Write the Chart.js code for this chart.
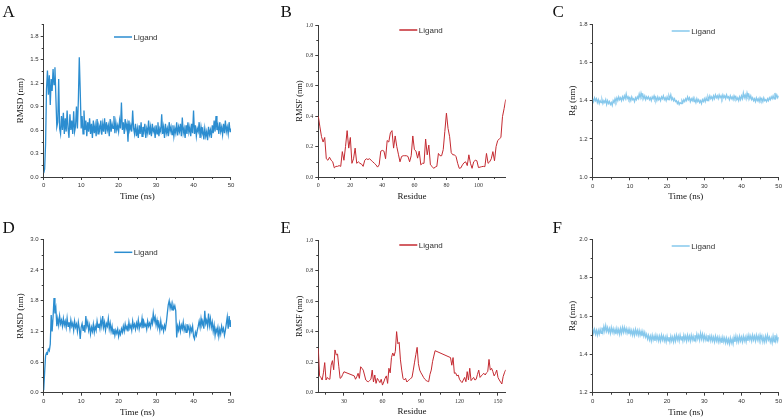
<!DOCTYPE html>
<html>
<head>
<meta charset="utf-8">
<script src="https://cdn.jsdelivr.net/npm/chart.js@4.4.1/dist/chart.umd.min.js"></script>
<style>
  body { margin: 0; background: #fff; }
  #wrap { position: relative; width: 784px; height: 420px; }
  #wrap canvas { position: absolute; left: 0; top: 0; }
</style>
</head>
<body>
<div id="wrap">
  <canvas id="cA" width="784" height="420"></canvas>
  <canvas id="cB" width="784" height="420"></canvas>
  <canvas id="cC" width="784" height="420"></canvas>
  <canvas id="cD" width="784" height="420"></canvas>
  <canvas id="cE" width="784" height="420"></canvas>
  <canvas id="cF" width="784" height="420"></canvas>
</div>
<script>
// --- data ---
const timeStepNs = 0.25;

// A: ligand RMSD (nm), 0..50 ns
const rmsdA = [
  0.05, 0.10, 0.42, 1.12, 1.36, 1.05, 1.30, 0.92, 1.25, 1.10, 1.38, 1.18, 1.40, 1.02, 0.64, 0.70, 1.25, 0.62, 0.55, 0.78,
  0.60, 0.82, 0.55, 0.75, 0.58, 0.85, 0.62, 0.50, 0.80, 0.60, 0.72, 0.55, 0.84, 0.58, 0.65, 0.90, 0.62, 0.98, 1.53, 1.10,
  0.62, 0.78, 0.55, 0.85, 0.60, 0.72, 0.52, 0.70, 0.58, 0.75, 0.55, 0.68, 0.50, 0.72, 0.56, 0.66, 0.52, 0.74, 0.55, 0.65,
  0.60, 0.72, 0.54, 0.68, 0.58, 0.75, 0.55, 0.70, 0.60, 0.66, 0.52, 0.74, 0.58, 0.68, 0.62, 0.78, 0.56, 0.70, 0.60, 0.66,
  0.58, 0.72, 0.62, 0.95, 0.60, 0.70, 0.55, 0.74, 0.62, 0.68, 0.45, 0.72, 0.60, 0.66, 0.58, 0.85, 0.62, 0.55, 0.68, 0.52,
  0.62, 0.50, 0.66, 0.55, 0.70, 0.52, 0.64, 0.58, 0.68, 0.50, 0.62, 0.56, 0.72, 0.54, 0.64, 0.52, 0.68, 0.58, 0.62, 0.50,
  0.66, 0.55, 0.70, 0.52, 0.62, 0.58, 0.80, 0.55, 0.64, 0.50, 0.68, 0.56, 0.62, 0.52, 0.70, 0.58, 0.64, 0.54, 0.66, 0.52,
  0.62, 0.56, 0.70, 0.53, 0.64, 0.58, 0.68, 0.52, 0.76, 0.56, 0.62, 0.50, 0.66, 0.55, 0.70, 0.57, 0.64, 0.52, 0.68, 0.56,
  0.85, 0.55, 0.66, 0.52, 0.62, 0.58, 0.70, 0.50, 0.64, 0.55, 0.60, 0.48, 0.62, 0.52, 0.58, 0.47, 0.64, 0.54, 0.60, 0.50,
  0.66, 0.56, 0.72, 0.58, 0.78, 0.60, 0.66, 0.55, 0.70, 0.58, 0.64, 0.54, 0.68, 0.56, 0.72, 0.58, 0.64, 0.55, 0.70, 0.58, 0.62
];

// B: RMSF (nm) per residue 0..117
const rmsfB = [
  0.40, 0.33, 0.265, 0.23, 0.26, 0.12, 0.11, 0.13, 0.11, 0.10,
  0.06, 0.07, 0.07, 0.075, 0.07, 0.167, 0.11, 0.20, 0.305, 0.19,
  0.26, 0.09, 0.12, 0.19, 0.09, 0.10, 0.09, 0.085, 0.07, 0.11,
  0.12, 0.115, 0.12, 0.11, 0.10, 0.09, 0.08, 0.065, 0.08, 0.17,
  0.175, 0.17, 0.12, 0.24, 0.23, 0.29, 0.305, 0.19, 0.27, 0.20,
  0.15, 0.10, 0.135, 0.14, 0.14, 0.14, 0.135, 0.10, 0.14, 0.27,
  0.18, 0.17, 0.124, 0.17, 0.08, 0.09, 0.09, 0.25, 0.146, 0.21,
  0.08, 0.07, 0.057, 0.065, 0.07, 0.155, 0.14, 0.14, 0.18, 0.30,
  0.42, 0.32, 0.265, 0.16, 0.146, 0.146, 0.134, 0.09, 0.057, 0.06,
  0.08, 0.094, 0.10, 0.075, 0.146, 0.09, 0.057, 0.10, 0.11, 0.107,
  0.062, 0.065, 0.068, 0.07, 0.068, 0.155, 0.09, 0.10, 0.12, 0.167,
  0.107, 0.20, 0.24, 0.25, 0.26, 0.397, 0.45, 0.51
];

// C: radius of gyration (nm), 0..50 ns
const rgC = [
  1.41, 1.395, 1.415, 1.40, 1.41, 1.39, 1.405, 1.385, 1.40, 1.39, 1.405, 1.385, 1.40, 1.39, 1.405, 1.38, 1.40, 1.385, 1.395, 1.38,
  1.39, 1.375, 1.40, 1.39, 1.41, 1.395, 1.415, 1.40, 1.42, 1.405, 1.415, 1.40, 1.42, 1.405, 1.425, 1.41, 1.435, 1.41, 1.42, 1.405,
  1.415, 1.40, 1.42, 1.405, 1.41, 1.395, 1.415, 1.405, 1.42, 1.41, 1.435, 1.415, 1.44, 1.42, 1.43, 1.41, 1.425, 1.405, 1.42, 1.41,
  1.42, 1.405, 1.415, 1.40, 1.42, 1.41, 1.425, 1.405, 1.415, 1.40, 1.42, 1.405, 1.415, 1.40, 1.42, 1.41, 1.425, 1.405, 1.415, 1.40,
  1.42, 1.405, 1.425, 1.41, 1.43, 1.405, 1.415, 1.40, 1.41, 1.395, 1.40, 1.385, 1.395, 1.38, 1.39, 1.385, 1.40, 1.39, 1.405, 1.395,
  1.41, 1.40, 1.42, 1.405, 1.415, 1.395, 1.41, 1.40, 1.415, 1.395, 1.405, 1.39, 1.41, 1.395, 1.405, 1.39, 1.40, 1.385, 1.405, 1.395,
  1.41, 1.395, 1.415, 1.40, 1.42, 1.405, 1.425, 1.41, 1.42, 1.405, 1.425, 1.41, 1.43, 1.415, 1.425, 1.41, 1.43, 1.415, 1.425, 1.41,
  1.43, 1.415, 1.425, 1.41, 1.43, 1.415, 1.42, 1.405, 1.425, 1.41, 1.42, 1.405, 1.425, 1.41, 1.42, 1.405, 1.415, 1.40, 1.42, 1.405,
  1.425, 1.41, 1.44, 1.415, 1.43, 1.41, 1.44, 1.42, 1.43, 1.41, 1.425, 1.405, 1.415, 1.40, 1.41, 1.395, 1.415, 1.40, 1.41, 1.395,
  1.415, 1.40, 1.41, 1.395, 1.415, 1.40, 1.405, 1.395, 1.41, 1.40, 1.415, 1.405, 1.42, 1.41, 1.425, 1.41, 1.44, 1.415, 1.43, 1.415, 1.425
];

// D: ligand RMSD (nm), 0..50 ns
const rmsdD = [
  0.05, 0.40, 0.72, 0.78, 0.76, 0.85, 0.82, 0.95, 1.52, 1.20, 1.48, 1.85, 1.55, 1.65, 1.30, 1.45, 1.32, 1.50, 1.35, 1.42,
  1.30, 1.45, 1.32, 1.40, 1.28, 1.46, 1.30, 1.38, 1.25, 1.42, 1.30, 1.36, 1.22, 1.40, 1.28, 1.34, 1.20, 1.38, 1.26, 1.05,
  1.28, 1.35, 1.22, 1.32, 1.18, 1.50, 1.30, 1.38, 1.22, 1.32, 1.15, 1.28, 1.20, 1.34, 1.18, 1.30, 1.22, 1.40, 1.28, 1.35,
  1.25, 1.42, 1.30, 1.50, 1.28, 1.38, 1.22, 1.35, 1.30, 1.45, 1.25, 1.36, 1.20, 1.30, 1.15, 1.25, 1.12, 1.22, 1.16, 1.24,
  1.10, 1.20, 1.14, 1.25, 1.18, 1.30, 1.20, 1.34, 1.24, 1.30, 1.20, 1.38, 1.26, 1.32, 1.22, 1.40, 1.28, 1.34, 1.24, 1.36,
  1.28, 1.42, 1.25, 1.35, 1.30, 1.45, 1.26, 1.38, 1.30, 1.34, 1.24, 1.40, 1.30, 1.36, 1.28, 1.42, 1.35, 1.55, 1.40, 1.48,
  1.32, 1.42, 1.28, 1.35, 1.22, 1.40, 1.25, 1.30, 1.20, 1.32, 1.25, 1.38, 1.55, 1.72, 1.80, 1.65, 1.74, 1.62, 1.72, 1.64,
  1.70, 1.60, 1.08, 1.30, 1.22, 1.35, 1.20, 1.32, 1.25, 1.38, 1.22, 1.30, 1.18, 1.34, 1.24, 1.30, 1.15, 1.28, 1.20, 1.30,
  1.10, 1.05, 1.18, 1.12, 1.22, 1.30, 1.40, 1.28, 1.45, 1.32, 1.38, 1.25, 1.60, 1.35, 1.42, 1.30, 1.55, 1.32, 1.45, 1.28,
  1.38, 1.20, 1.32, 1.12, 1.25, 1.18, 1.28, 1.10, 1.24, 1.15, 1.30, 1.20, 1.26, 1.12, 1.22, 1.35, 1.48, 1.25, 1.50, 1.30, 1.42
];

// E: RMSF (nm); residues 31-37 and 102-112 are missing in the plot (straight joins)
const residueE = [
  10, 11, 12, 13, 14, 15, 16, 17, 18, 19, 20, 21, 22, 23, 24, 25, 26, 27, 28, 29, 30,
  38, 39, 40, 41, 42, 43, 44, 45, 46, 47, 48, 49, 50, 51, 52, 53, 54, 55, 56, 57,
  58, 59, 60, 61, 62, 63, 64, 65, 66, 67, 68, 69, 70, 71, 72, 73, 74, 75, 76, 77,
  78, 79, 80, 81, 82, 83, 84, 85, 86, 87, 88, 89, 90, 91, 92, 93, 94, 95, 96, 97,
  98, 99, 100, 101,
  113, 114, 115, 116, 117, 118, 119, 120, 121, 122, 123, 124, 125, 126, 127, 128, 129, 130, 131, 132,
  133, 134, 135, 136, 137, 138, 139, 140, 141, 142, 143, 144, 145, 146, 147, 148, 149, 150, 151, 152,
  153, 154, 155, 156
];
const rmsfE = [
  0.29, 0.11, 0.10, 0.083, 0.13, 0.197, 0.083, 0.10, 0.09, 0.088, 0.18, 0.21, 0.15, 0.28, 0.247, 0.253, 0.17, 0.094, 0.10, 0.12, 0.137,
  0.11, 0.088, 0.105, 0.127, 0.094, 0.17, 0.16, 0.148, 0.116, 0.083, 0.075, 0.072, 0.08, 0.088, 0.148, 0.07, 0.116, 0.061, 0.094, 0.08,
  0.066, 0.088, 0.05, 0.07, 0.094, 0.11, 0.061, 0.16, 0.13, 0.23, 0.26, 0.24, 0.27, 0.40, 0.32, 0.33, 0.215, 0.148, 0.094, 0.083,
  0.094, 0.07, 0.079, 0.085, 0.094, 0.10, 0.148, 0.20, 0.25, 0.297, 0.19, 0.148, 0.13, 0.116, 0.10, 0.088, 0.08, 0.075, 0.072, 0.12,
  0.148, 0.203, 0.24, 0.275,
  0.23, 0.18, 0.23, 0.127, 0.13, 0.11, 0.116, 0.088, 0.075, 0.066, 0.083, 0.10, 0.072, 0.138, 0.083, 0.16, 0.079, 0.09, 0.10, 0.083,
  0.088, 0.12, 0.148, 0.10, 0.11, 0.12, 0.127, 0.116, 0.13, 0.138, 0.218, 0.148, 0.16, 0.138, 0.11, 0.125, 0.148, 0.10, 0.083, 0.07,
  0.057, 0.105, 0.13, 0.15
];

// F: radius of gyration (nm), 0..50 ns
const rgF = [
  1.535, 1.51, 1.53, 1.505, 1.525, 1.50, 1.525, 1.505, 1.53, 1.51, 1.54, 1.515, 1.545, 1.52, 1.55, 1.52, 1.54, 1.515, 1.535, 1.51,
  1.54, 1.515, 1.535, 1.51, 1.53, 1.505, 1.535, 1.51, 1.53, 1.505, 1.535, 1.51, 1.54, 1.515, 1.54, 1.515, 1.535, 1.51, 1.53, 1.505,
  1.53, 1.505, 1.525, 1.50, 1.525, 1.50, 1.53, 1.505, 1.525, 1.50, 1.525, 1.50, 1.52, 1.495, 1.52, 1.495, 1.515, 1.49, 1.505, 1.48,
  1.50, 1.475, 1.495, 1.47, 1.50, 1.475, 1.495, 1.47, 1.50, 1.475, 1.495, 1.47, 1.495, 1.47, 1.50, 1.475, 1.495, 1.47, 1.49, 1.465,
  1.495, 1.47, 1.49, 1.465, 1.495, 1.47, 1.49, 1.465, 1.495, 1.47, 1.50, 1.475, 1.495, 1.47, 1.50, 1.475, 1.495, 1.47, 1.50, 1.475,
  1.495, 1.47, 1.50, 1.475, 1.495, 1.47, 1.50, 1.475, 1.495, 1.47, 1.50, 1.475, 1.505, 1.48, 1.50, 1.475, 1.51, 1.48, 1.505, 1.475,
  1.50, 1.475, 1.495, 1.47, 1.50, 1.475, 1.495, 1.47, 1.495, 1.47, 1.49, 1.465, 1.495, 1.47, 1.49, 1.465, 1.49, 1.465, 1.485, 1.46,
  1.49, 1.465, 1.485, 1.46, 1.485, 1.46, 1.48, 1.455, 1.485, 1.46, 1.48, 1.455, 1.49, 1.465, 1.495, 1.465, 1.49, 1.465, 1.495, 1.47,
  1.49, 1.465, 1.495, 1.47, 1.49, 1.465, 1.495, 1.47, 1.50, 1.475, 1.495, 1.47, 1.50, 1.475, 1.495, 1.47, 1.50, 1.475, 1.495, 1.47,
  1.50, 1.475, 1.495, 1.465, 1.49, 1.465, 1.495, 1.47, 1.50, 1.475, 1.49, 1.465, 1.485, 1.46, 1.495, 1.465, 1.50, 1.47, 1.495, 1.47, 1.49
];

const timeNs = rmsdA.map((_, i) => i * timeStepNs);
const residueB = rmsfB.map((_, i) => i);

// tick labels
const xTicksTime = [0, 10, 20, 30, 40, 50];
const xTicksB = [0, 20, 40, 60, 80, 100];
const xTicksE = [30, 60, 90, 120, 150];
const yTicksA = [0, 0.3, 0.6, 0.9, 1.2, 1.5, 1.8];
const yTicksRmsf = [0, 0.2, 0.4, 0.6, 0.8, 1.0];
const yTicksC = [1.0, 1.2, 1.4, 1.6, 1.8];
const yTicksD = [0, 0.6, 1.2, 1.8, 2.4, 3.0];
const yTicksF = [1.2, 1.4, 1.6, 1.8, 2.0];

// --- styles ---
const SANS = "'Liberation Sans', Arial, sans-serif";
const SERIF = "'Liberation Serif', 'Times New Roman', serif";
const AXIS = '#3c3c3c';
const BLUE = '#2b8dd0';
const LIGHT = '#86c8ec';
const RED = '#c42a31';
const Y_AXIS_W = 40, X_AXIS_H = 26;

function minorValues(major, min, max) {
  const step = major[1] - major[0], out = [];
  for (let v = major[0] - step / 2; v >= min - 1e-9; v -= step) out.push(v);
  for (let v = major[0] + step / 2; v <= max + 1e-9; v += step) out.push(v);
  return out;
}

// minor ticks, legend and panel letter
const panelDeco = {
  id: 'panelDeco',
  afterDraw(chart, args, o) {
    const { ctx, chartArea: a } = chart;
    const xs = chart.scales.x, ys = chart.scales.y;
    ctx.save();
    ctx.strokeStyle = AXIS;
    ctx.lineWidth = 1;
    ctx.beginPath();
    minorValues(o.xTicks, xs.min, xs.max).forEach(v => {
      const px = Math.round(xs.getPixelForValue(v)) + 0.5;
      ctx.moveTo(px, a.bottom); ctx.lineTo(px, a.bottom + 2);
    });
    minorValues(o.yTicks, ys.min, ys.max).forEach(v => {
      const py = Math.round(ys.getPixelForValue(v)) + 0.5;
      ctx.moveTo(a.left, py); ctx.lineTo(a.left - 2, py);
    });
    ctx.stroke();

    const ds = chart.data.datasets[0];
    ctx.strokeStyle = ds.borderColor;
    ctx.lineWidth = 1.5;
    ctx.beginPath();
    ctx.moveTo(o.legend[0], o.legend[1]);
    ctx.lineTo(o.legend[0] + 18, o.legend[1]);
    ctx.stroke();
    ctx.fillStyle = '#333';
    ctx.font = '8px ' + SANS;
    ctx.textBaseline = 'middle';
    ctx.fillText(ds.label, o.legend[0] + 19.5, o.legend[1] + 0.5);

    ctx.fillStyle = '#111';
    ctx.font = '17px ' + SERIF;
    ctx.textBaseline = 'alphabetic';
    ctx.fillText(o.letter, o.letterPos[0], o.letterPos[1]);
    ctx.restore();
  }
};

function makePanel(id, p) {
  const [L, T, R, B] = p.box;
  const tickFont = { family: p.tickFamily, size: 6 };
  const points = p.x.map((x, i) => ({ x, y: p.y[i] }));
  const axis = (ticksArr, min, max, isY) => ({
    type: 'linear',
    min, max,
    afterBuildTicks: s => { s.ticks = ticksArr.map(v => ({ value: v })); },
    afterFit: s => { if (isY) s.width = Y_AXIS_W; else s.height = X_AXIS_H; },
    border: { display: true, color: AXIS, width: 1 },
    grid: { drawOnChartArea: false, drawTicks: true, tickLength: 3, color: AXIS },
    ticks: {
      font: tickFont, color: '#333', padding: 2, maxRotation: 0, autoSkip: false,
      callback: v => isY ? Number(v).toFixed(1) : String(v)
    },
    title: isY
      ? { display: true, text: p.yTitle, color: '#111',
          font: { family: SERIF, size: p.yTitleSize, lineHeight: 1 },
          padding: { top: p.yTitleX - (L - Y_AXIS_W) - p.yTitleSize / 2, bottom: 0 } }
      : { display: true, text: p.xTitle, color: '#111',
          font: { family: SERIF, size: 9, lineHeight: 1 },
          padding: { top: 0, bottom: B + X_AXIS_H - 4.5 - p.xTitleY } }
  });

  new Chart(document.getElementById(id), {
    type: 'line',
    data: {
      datasets: [{
        label: 'Ligand', data: points, borderColor: p.color, borderWidth: p.lineWidth,
        pointRadius: 0, fill: false, tension: 0
      }]
    },
    options: {
      responsive: false, animation: false, events: [],
      layout: { padding: { left: L - Y_AXIS_W, top: T, right: 784 - R, bottom: 420 - B - X_AXIS_H } },
      scales: {
        x: axis(p.xTicks, p.xRange[0], p.xRange[1], false),
        y: axis(p.yTicks, p.yRange[0], p.yRange[1], true)
      },
      plugins: {
        legend: { display: false },
        tooltip: { enabled: false },
        panelDeco: {
          xTicks: p.xTicks, yTicks: p.yTicks, legend: p.legend,
          letter: p.letter, letterPos: p.letterPos
        }
      }
    },
    plugins: [panelDeco]
  });
}

makePanel('cA', {
  letter: 'A', letterPos: [2.5, 17], box: [43.7, 24.3, 231, 177],
  x: timeNs, y: rmsdA, color: BLUE, lineWidth: 1.3, xRange: [0, 50], yRange: [0, 1.95],
  xTicks: xTicksTime, yTicks: yTicksA, tickFamily: SANS,
  xTitle: 'Time (ns)', yTitle: 'RMSD (nm)', yTitleSize: 9, yTitleX: 20.3, xTitleY: 197,
  legend: [114, 37]
});
makePanel('cB', {
  letter: 'B', letterPos: [280.5, 16.7], box: [318.3, 25, 505.7, 177],
  x: residueB, y: rmsfB, color: RED, lineWidth: 1, xRange: [0, 117], yRange: [0, 1.0],
  xTicks: xTicksB, yTicks: yTicksRmsf, tickFamily: SERIF,
  xTitle: 'Residue', yTitle: 'RMSF (nm)', yTitleSize: 8.5, yTitleX: 300, xTitleY: 197,
  legend: [399.3, 30]
});
makePanel('cC', {
  letter: 'C', letterPos: [552.5, 17], box: [592.7, 24, 779.3, 177.3],
  x: timeNs, y: rgC, color: LIGHT, lineWidth: 1.3, xRange: [0, 50], yRange: [1.0, 1.8],
  xTicks: xTicksTime, yTicks: yTicksC, tickFamily: SANS,
  xTitle: 'Time (ns)', yTitle: 'Rg (nm)', yTitleSize: 9, yTitleX: 573, xTitleY: 197,
  legend: [671.7, 31]
});
makePanel('cD', {
  letter: 'D', letterPos: [2.5, 233], box: [43.7, 239.3, 231, 392.7],
  x: timeNs, y: rmsdD, color: BLUE, lineWidth: 1.3, xRange: [0, 50], yRange: [0, 3.0],
  xTicks: xTicksTime, yTicks: yTicksD, tickFamily: SANS,
  xTitle: 'Time (ns)', yTitle: 'RMSD (nm)', yTitleSize: 9, yTitleX: 20.3, xTitleY: 413,
  legend: [114.3, 252.3]
});
makePanel('cE', {
  letter: 'E', letterPos: [280.5, 233], box: [318.3, 240, 505.7, 392.7],
  x: residueE, y: rmsfE, color: RED, lineWidth: 1, xRange: [10, 156], yRange: [0, 1.0],
  xTicks: xTicksE, yTicks: yTicksRmsf, tickFamily: SERIF,
  xTitle: 'Residue', yTitle: 'RMSF (nm)', yTitleSize: 8.5, yTitleX: 300, xTitleY: 412,
  legend: [399.3, 245]
});
makePanel('cF', {
  letter: 'F', letterPos: [552.5, 232.7], box: [592.7, 239.3, 779.3, 392.7],
  x: timeNs, y: rgF, color: LIGHT, lineWidth: 1.3, xRange: [0, 50], yRange: [1.2, 2.0],
  xTicks: xTicksTime, yTicks: yTicksF, tickFamily: SANS,
  xTitle: 'Time (ns)', yTitle: 'Rg (nm)', yTitleSize: 9, yTitleX: 573, xTitleY: 413,
  legend: [671.7, 246]
});
</script>
</body>
</html>
